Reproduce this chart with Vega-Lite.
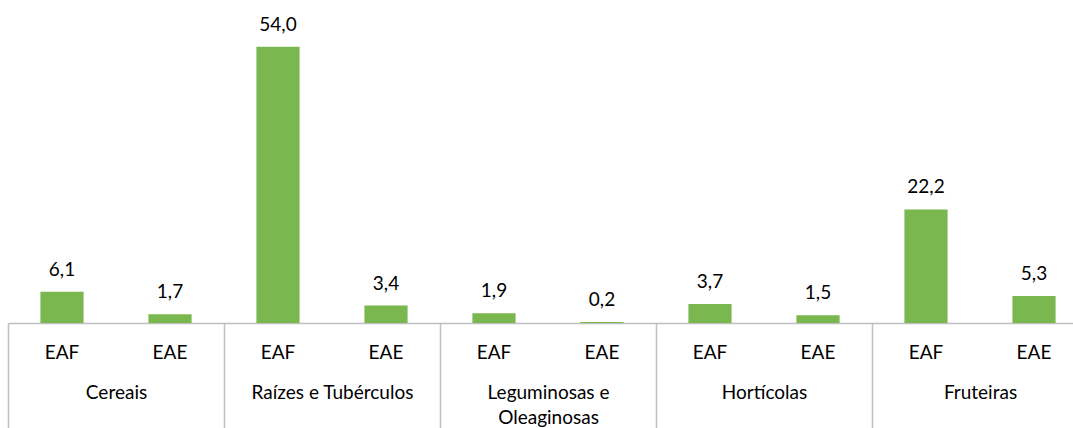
{
  "$schema": "https://vega.github.io/schema/vega-lite/v6.json",
  "width": 1080,
  "height": 307,
  "autosize": "none",
  "padding": {"left": 8, "top": 16, "right": 0, "bottom": 105},
  "config": {
    "view": {"stroke": null},
    "font": "Lato"
  },
  "data": {
    "values": [
      {"group": "Cereais", "type": "EAF", "key": "Cereais|EAF", "value": 6.1},
      {"group": "Cereais", "type": "EAE", "key": "Cereais|EAE", "value": 1.7},
      {"group": "Raízes e Tubérculos", "type": "EAF", "key": "Raízes e Tubérculos|EAF", "value": 54.0},
      {"group": "Raízes e Tubérculos", "type": "EAE", "key": "Raízes e Tubérculos|EAE", "value": 3.4},
      {"group": "Leguminosas e Oleaginosas", "type": "EAF", "key": "Leguminosas e Oleaginosas|EAF", "value": 1.9},
      {"group": "Leguminosas e Oleaginosas", "type": "EAE", "key": "Leguminosas e Oleaginosas|EAE", "value": 0.2},
      {"group": "Hortícolas", "type": "EAF", "key": "Hortícolas|EAF", "value": 3.7},
      {"group": "Hortícolas", "type": "EAE", "key": "Hortícolas|EAE", "value": 1.5},
      {"group": "Fruteiras", "type": "EAF", "key": "Fruteiras|EAF", "value": 22.2},
      {"group": "Fruteiras", "type": "EAE", "key": "Fruteiras|EAE", "value": 5.3}
    ]
  },
  "transform": [{"calculate": "replace(format(datum.value, '.1f'), '.', ',')", "as": "lbl"}],
  "layer": [
    {
      "mark": {"type": "bar", "color": "#7ab84f"},
      "encoding": {
        "x": {
          "field": "key", "type": "nominal", "sort": null,
          "scale": {"paddingInner": 0.6, "paddingOuter": 0.3},
          "axis": {
            "title": null, "ticks": false, "grid": false,
            "labelExpr": "split(datum.value, '|')[1]",
            "labelAngle": 0, "labelFontSize": 19, "labelColor": "#000000",
            "labelPadding": 29, "labelBaseline": "middle",
            "domainColor": "#bfbfbf", "domainWidth": 1.5
          }
        },
        "y": {"field": "value", "type": "quantitative", "scale": {"domain": [0, 60]}, "axis": null}
      }
    },
    {
      "mark": {"type": "text", "dy": -16, "fontSize": 19, "color": "#000000", "baseline": "alphabetic"},
      "encoding": {
        "x": {"field": "key", "type": "nominal", "sort": null, "scale": {"paddingInner": 0.6, "paddingOuter": 0.3}, "axis": null},
        "y": {"field": "value", "type": "quantitative"},
        "text": {"field": "lbl", "type": "nominal"}
      }
    },
    {
      "mark": {"type": "bar", "opacity": 0},
      "encoding": {
        "x": {
          "field": "group", "type": "nominal", "sort": null,
          "scale": {"paddingInner": 0, "paddingOuter": 0},
          "axis": {
            "orient": "bottom", "title": null, "domain": false, "grid": false,
            "tickBand": "extent", "tickSize": 105, "tickColor": "#bfbfbf", "tickWidth": 1.5,
            "labelAngle": 0, "labelFontSize": 19, "labelColor": "#000000",
            "labelPadding": -45, "labelBaseline": "top", "labelLimit": 400,
            "labelLineHeight": 25, "labelBound": false, "labelOverlap": false,
            "labelExpr": "datum.value == 'Leguminosas e Oleaginosas' ? ['Leguminosas e', 'Oleaginosas'] : datum.value"
          }
        },
        "y": {"field": "value", "type": "quantitative"}
      }
    }
  ],
  "resolve": {"scale": {"x": "independent"}}
}
